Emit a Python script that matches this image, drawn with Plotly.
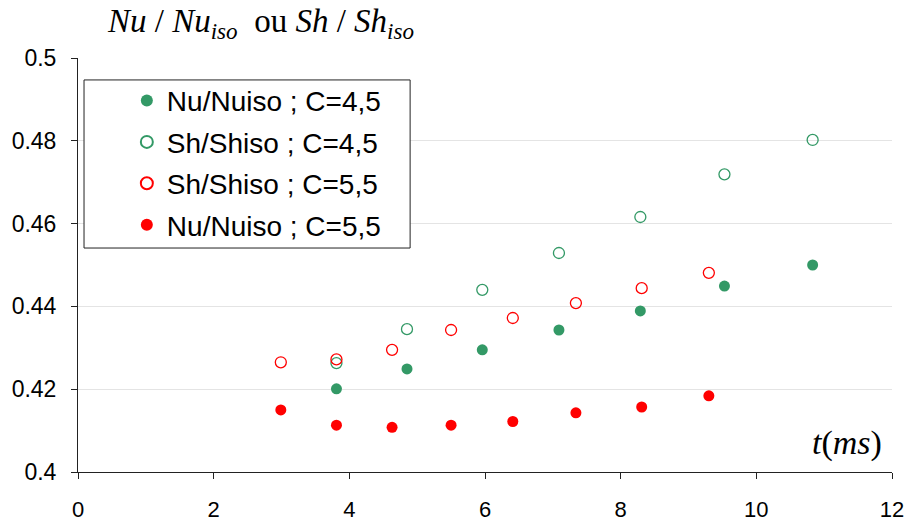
import plotly.graph_objects as go

# Data
t_c45 = [3.81, 4.85, 5.96, 7.09, 8.29, 9.53, 10.83]
nu_c45 = [0.4201, 0.4249, 0.4295, 0.4343, 0.4389, 0.4449, 0.4500]
sh_c45 = [0.4263, 0.4345, 0.4440, 0.4529, 0.4616, 0.4719, 0.4802]

t_c55 = [2.99, 3.81, 4.63, 5.50, 6.41, 7.34, 8.31, 9.30]
sh_c55 = [0.4265, 0.4272, 0.4295, 0.4343, 0.4372, 0.4408, 0.4444, 0.4481]
nu_c55 = [0.4150, 0.4113, 0.4108, 0.4113, 0.4122, 0.4143, 0.4157, 0.4184]

x_ticks = [0, 2, 4, 6, 8, 10, 12]
y_ticks = [0.4, 0.42, 0.44, 0.46, 0.48, 0.5]
y_tick_text = ["0.4", "0.42", "0.44", "0.46", "0.48", "0.5"]

GREEN = "#339966"
RED = "#FF0000"

fig = go.Figure()
fig.add_trace(go.Scatter(x=t_c45, y=nu_c45, mode="markers", name="Nu/Nuiso ; C=4,5",
                         legendgroup="g1",
                         marker=dict(symbol="circle", size=11, color=GREEN,
                                     line=dict(width=0))))
fig.add_trace(go.Scatter(x=t_c45, y=sh_c45, mode="markers", name="Sh/Shiso ; C=4,5",
                         legendgroup="g2",
                         marker=dict(symbol="circle-open", size=11, color=GREEN,
                                     line=dict(width=1.3, color=GREEN))))
fig.add_trace(go.Scatter(x=t_c55, y=sh_c55, mode="markers", name="Sh/Shiso ; C=5,5",
                         legendgroup="g3",
                         marker=dict(symbol="circle-open", size=11, color=RED,
                                     line=dict(width=1.3, color=RED))))
fig.add_trace(go.Scatter(x=t_c55, y=nu_c55, mode="markers", name="Nu/Nuiso ; C=5,5",
                         legendgroup="g4",
                         marker=dict(symbol="circle", size=11, color=RED,
                                     line=dict(width=0))))

fig.update_layout(
    width=908, height=522,
    margin=dict(l=78, r=16, t=58, b=50, autoexpand=False),
    paper_bgcolor="white", plot_bgcolor="white",
    font=dict(family="Liberation Sans, Arial, sans-serif", size=22, color="black"),
    showlegend=True,
    legend=dict(x=0.060, y=0.957, xanchor="left", yanchor="top",
                bgcolor="rgba(0,0,0,0)", borderwidth=0, tracegroupgap=2,
                font=dict(family="Liberation Sans, Arial, sans-serif", size=28, color="black"),
                itemsizing="constant"),
    shapes=[dict(type="rect", xref="paper", yref="paper",
                 x0=0.0074, x1=0.408, y0=0.541, y1=0.947,
                 line=dict(color="#222222", width=1), fillcolor="white", layer="above")],
    annotations=[
        dict(xref="paper", yref="paper", x=0.033, y=1.0, yshift=57, xanchor="left", yanchor="top",
             showarrow=False,
             text="<i>Nu</i> / <i>Nu<sub>iso</sub></i>  ou <i>Sh</i> / <i>Sh<sub>iso</sub></i>",
             font=dict(family="Liberation Serif, Times New Roman, serif", size=33, color="black")),
        dict(xref="paper", yref="paper", x=0.99, y=0.07, xanchor="right", yanchor="middle",
             showarrow=False,
             text="<i>t</i>(<i>ms</i>)",
             font=dict(family="Liberation Serif, Times New Roman, serif", size=34, color="black")),
    ],
)

fig.update_xaxes(range=[0, 12], tickvals=x_ticks, showgrid=False, zeroline=False,
                 showline=True, linecolor="#222222", linewidth=1,
                 ticks="outside", ticklen=6, tickcolor="#222222",
                 tickfont=dict(size=22), ticklabelstandoff=12)
fig.update_yaxes(range=[0.4, 0.5], tickvals=y_ticks, ticktext=y_tick_text,
                 showgrid=True, gridcolor="#e4e4e4", gridwidth=1, zeroline=False,
                 showline=True, linecolor="#222222", linewidth=1,
                 ticks="outside", ticklen=6, tickcolor="#222222",
                 tickfont=dict(size=23), ticklabelstandoff=10)

fig.write_html("out.html", config={"displayModeBar": False},
               post_script="document.body.style.margin='0';")
